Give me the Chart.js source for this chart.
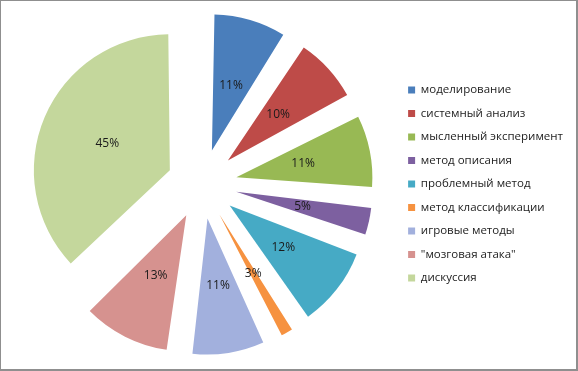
<!DOCTYPE html>
<html lang="ru">
<head>
    <meta charset="UTF-8">
    <title>Методы</title>
    <script src="https://cdn.jsdelivr.net/npm/chart.js"></script>
    <style>
        body {
            margin: 0;
            padding: 0;
            background: #fff;
        }
        #frame {
            position: relative;
            width: 578px;
            height: 371px;
            box-sizing: border-box;
            border: 1px solid #8f8f8f;
            border-right-width: 2px;
            border-bottom-width: 2px;
        }
        #frame canvas {
            display: block;
        }
    </style>
</head>
<body>
    <div id="frame">
        <canvas id="pie" width="575" height="368"></canvas>
    </div>
    <script>
        // данные диаграммы
        const labels = ['моделирование', 'системный анализ', 'мысленный эксперимент', 'метод описания',
            'проблемный метод', 'метод классификации', 'игровые методы', '"мозговая атака"', 'дискуссия'];
        const values = [11, 10, 11, 5, 12, 3, 11, 13, 45];
        const colors = ['#4a7ebb', '#be4b48', '#98b954', '#7d60a0', '#46aac5', '#f69240',
            '#a2b0dd', '#d6928f', '#c4d79c'];

        const R = 136;      // радиус
        const SHIFT = 35;   // вынос секторов

        // выравниваем радиус секторов (arc добавляет offset*fix к радиусу)
        const sameRadius = {
            id: 'sameRadius',
            beforeDatasetsDraw(chart) {
                chart.getDatasetMeta(0).data.forEach(arc => {
                    const circ = arc.endAngle - arc.startAngle;
                    const fix = 1 - Math.sin(Math.min(Math.PI, circ));
                    arc.outerRadius = R - SHIFT * fix;
                });
            }
        };

        // подписи в процентах
        const pctLabels = {
            id: 'pctLabels',
            afterDatasetsDraw(chart) {
                const ctx = chart.ctx;
                ctx.save();
                ctx.font = '12px "Open Sans", sans-serif';
                ctx.fillStyle = '#1a1a1a';
                ctx.textAlign = 'center';
                ctx.textBaseline = 'middle';
                chart.getDatasetMeta(0).data.forEach((arc, i) => {
                    const mid = (arc.startAngle + arc.endAngle) / 2;
                    const d = SHIFT + R * 0.5;
                    ctx.fillText(values[i] + '%', arc.x + Math.cos(mid) * d, arc.y + Math.sin(mid) * d);
                });
                ctx.restore();
            }
        };

        new Chart(document.getElementById('pie'), {
            type: 'pie',
            data: {
                labels: labels,
                datasets: [{
                    data: values,
                    backgroundColor: colors,
                    borderWidth: 0,
                    offset: SHIFT * 4,
                    hoverOffset: SHIFT * 4
                }]
            },
            options: {
                responsive: false,
                animation: false,
                radius: R,
                layout: {
                    padding: { left: 7, right: 3, top: 1, bottom: 3 }
                },
                plugins: {
                    legend: {
                        position: 'right',
                        labels: {
                            boxWidth: 7,
                            boxHeight: 7,
                            padding: 12,
                            color: '#222',
                            font: { family: '"Open Sans", sans-serif', size: 11.5 }
                        }
                    },
                    tooltip: { enabled: false }
                }
            },
            plugins: [sameRadius, pctLabels]
        });
    </script>
</body>
</html>
